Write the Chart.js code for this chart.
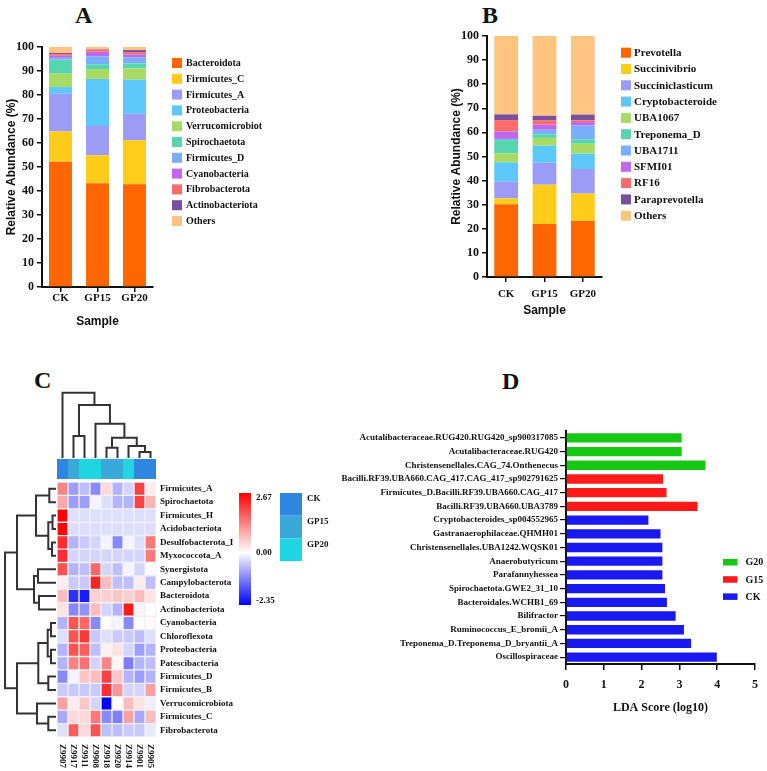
<!DOCTYPE html>
<html>
<head>
<meta charset="utf-8">
<script src="https://cdn.jsdelivr.net/npm/chart.js@4/dist/chart.umd.min.js"></script>
<style>
  body { margin: 0; background: #fff; }
  #fig { position: relative; width: 767px; height: 771px; overflow: hidden; }
  #fig canvas, #fig .tag { position: absolute; }
  .tag { font: bold 24px "Liberation Serif", serif; line-height: 24px; color: #111; }
</style>
</head>
<body>
<div id="fig">
  <div class="tag" style="left:75px; top:3px">A</div>
  <div class="tag" style="left:482px; top:3px">B</div>
  <div class="tag" style="left:34px; top:368px">C</div>
  <div class="tag" style="left:502px; top:369px">D</div>
  <canvas id="chA" width="300" height="303" style="left:0; top:30px"></canvas>
  <canvas id="chB" width="322" height="302" style="left:445px; top:20px"></canvas>
  <canvas id="chC" width="340" height="316" style="left:0; top:455px"></canvas>
  <canvas id="colTree" width="99" height="68" style="left:57px; top:390px"></canvas>
  <canvas id="rowTree" width="56" height="255" style="left:0; top:482px"></canvas>
  <canvas id="chD" width="432" height="310" style="left:335px; top:420px"></canvas>
</div>
<script>
const serif = '"Liberation Serif", "Times New Roman", serif';
const sans = '"Liberation Sans", Arial, sans-serif';
const ink = '#111';
const bold = (size, family = serif) => ({ family, size, weight: 'bold' });

// panel A - phylum level
const samples = ['CK', 'GP15', 'GP20'];
const phyla = ['Bacteroidota', 'Firmicutes_C', 'Firmicutes_A', 'Proteobacteria', 'Verrucomicrobiot', 'Spirochaetota',
  'Firmicutes_D', 'Cyanobacteria', 'Fibrobacterota', 'Actinobacteriota', 'Others'];
const phylaCK = [52.2, 12.6, 15.7, 2.8, 5.6, 5.8, 0.8, 0.8, 0.6, 0.6, 2.5];
const phylaGP15 = [43.2, 11.7, 12.2, 19.6, 4.1, 2.0, 3.3, 1.9, 0.8, 0.2, 1.0];
const phylaGP20 = [42.8, 18.3, 11.1, 14.2, 4.7, 2.0, 2.5, 1.3, 0.8, 1.0, 1.3];

// panel B - genus level
const genera = ['Prevotella', 'Succinivibrio', 'Succiniclasticum', 'Cryptobacteroide', 'UBA1067', 'Treponema_D',
  'UBA1711', 'SFMI01', 'RF16', 'Paraprevotella', 'Others'];
const generaCK = [30.2, 2.4, 7.0, 8.0, 3.7, 5.5, 0.5, 3.1, 4.7, 2.4, 32.5];
const generaGP15 = [22.0, 16.3, 9.1, 7.1, 3.2, 1.5, 1.9, 2.1, 1.7, 2.0, 33.1];
const generaGP20 = [23.2, 11.4, 10.2, 6.4, 4.1, 1.8, 5.8, 1.4, 0.7, 2.4, 32.6];

const taxonColors = ['#FF6600', '#FFCC1A', '#9C9CF7', '#5CC8FA', '#A8DB64', '#55D6AF',
  '#7AAEFA', '#BF68EE', '#FF6B6B', '#7A4F9C', '#FFC580'];

// panel C - heatmap (z-scores, rows x samples)
const heatRows = ['Firmicutes_A', 'Spirochaetota', 'Firmicutes_H', 'Acidobacteriota', 'Desulfobacterota_I',
  'Myxococcota_A', 'Synergistota', 'Campylobacterota', 'Bacteroidota', 'Actinobacteriota', 'Cyanobacteria',
  'Chloroflexota', 'Proteobacteria', 'Patescibacteria', 'Firmicutes_D', 'Firmicutes_B', 'Verrucomicrobiota',
  'Firmicutes_C', 'Fibrobacterota'];
const heatCols = ['Z9907', 'Z9917', 'Z9911', 'Z9908', 'Z9918', 'Z9920', 'Z9914', 'Z9901', 'Z9905'];
const colGroups = ['CK', 'GP15', 'GP20', 'GP20', 'GP15', 'GP15', 'GP20', 'CK', 'CK'];
const groupNames = ['CK', 'GP15', 'GP20'];
const groupColors = ['#2E86DE', '#39A9D9', '#1FD5E0'];
const zScale = [2.67, 0.00, -2.35];
const zScores = [
  [1.3, -0.9, -0.6, -1.1, 0.4, -0.7, -0.4, 2.0, 0.2],
  [0.9, -0.9, -0.9, -0.1, -0.3, -0.7, -0.7, 2.0, 0.8],
  [2.67, -0.3, -0.3, -0.3, -0.3, -0.3, -0.3, -0.3, -0.3],
  [2.6, -0.3, -0.3, -0.3, -0.3, -0.3, -0.3, -0.3, -0.3],
  [2.2, -0.7, -0.5, -0.4, -0.1, -1.1, -0.1, -0.3, 1.4],
  [2.2, -0.4, -0.4, -0.4, -0.4, -0.4, -0.4, -0.4, 1.4],
  [1.8, -0.7, -0.6, 1.6, -0.4, -0.6, -0.1, -0.4, -0.05],
  [0.2, -0.5, -0.5, 2.3, 0.7, -0.6, -0.6, 0.2, -0.6],
  [0.7, -1.9, -2.1, 0.5, 0.5, 0.6, 0.5, 0.7, 0.3],
  [0.3, -1.1, -1.0, 0.7, -0.4, -0.7, 2.4, 0.1, 0.0],
  [-0.7, 1.8, 1.6, -1.1, 0.0, -0.1, -1.1, 0.0, 0.05],
  [-0.3, 1.8, 2.1, -0.5, -0.3, -0.5, -0.5, -0.6, -0.3],
  [-0.7, 1.8, 1.7, -0.6, 0.15, 0.3, -0.4, -0.9, -0.7],
  [-0.7, 1.3, 1.5, -0.4, 1.3, 0.1, -1.2, -0.7, -0.6],
  [-1.1, -0.1, 0.6, 0.7, 2.0, 0.6, -0.7, -0.9, -0.7],
  [-0.5, -0.5, -0.5, -0.5, 2.2, 1.1, -0.4, -0.4, 1.0],
  [1.0, 0.2, 0.6, -0.4, -2.35, 0.0, 0.7, 0.3, -0.15],
  [-0.8, 0.4, 0.4, 1.4, -1.1, -1.2, 1.0, -0.8, 0.7],
  [-0.3, 1.7, 0.4, 1.8, -0.6, -0.6, -0.5, -0.5, -0.2]
];
// cluster merges: [childA, childB, height]; node n+k is the k-th merge
const colMerges = [[7, 8, 6], [6, 9, 12], [4, 5, 10.3], [11, 10, 20.3], [3, 12, 34.3],
  [1, 2, 22], [14, 13, 53], [0, 15, 65.3]];
const rowMerges = [[0, 1, 6.7], [2, 3, 3.5], [4, 5, 4], [20, 21, 7.7], [19, 22, 20],
  [6, 7, 18], [8, 9, 17], [24, 25, 22], [23, 26, 39],
  [10, 11, 5], [12, 13, 5], [28, 29, 8.3], [14, 15, 7.7], [30, 31, 17.7],
  [17, 18, 7.7], [16, 33, 19], [32, 34, 39], [27, 35, 51]];

// panel D - LEfSe
const ldaFeatures = ['Acutalibacteraceae.RUG420.RUG420_sp900317085', 'Acutalibacteraceae.RUG420',
  'Christensenellales.CAG_74.Onthenecus', 'Bacilli.RF39.UBA660.CAG_417.CAG_417_sp902791625',
  'Firmicutes_D.Bacilli.RF39.UBA660.CAG_417', 'Bacilli.RF39.UBA660.UBA3789', 'Cryptobacteroides_sp004552965',
  'Gastranaerophilaceae.QHMH01', 'Christensenellales.UBA1242.WQSK01', 'Anaerobutyricum', 'Parafannyhessea',
  'Spirochaetota.GWE2_31_10', 'Bacteroidales.WCHB1_69', 'Bilifractor', 'Ruminococcus_E_bromii_A',
  'Treponema_D.Treponema_D_bryantii_A', 'Oscillospiraceae'];
const ldaScores = [3.06, 3.06, 3.69, 2.57, 2.66, 3.48, 2.18, 2.50, 2.55, 2.55, 2.55, 2.62, 2.67, 2.90, 3.12, 3.31, 3.99];
const ldaClass = ['G20', 'G20', 'G20', 'G15', 'G15', 'G15', 'CK', 'CK', 'CK', 'CK', 'CK', 'CK', 'CK', 'CK', 'CK', 'CK', 'CK'];
const ldaGroups = ['G20', 'G15', 'CK'];
const ldaColors = ['#14C814', '#FF1A1A', '#1A1AF0'];

// legend drawn beside / inside the plot from the datasets
const sideLegend = {
  id: 'sideLegend',
  afterDraw(chart, args, o) {
    const { ctx, chartArea } = chart;
    const x0 = (o.fromLeft ? chartArea.left : chartArea.right) + o.dx;
    ctx.save();
    ctx.font = `bold ${o.size}px ${serif}`;
    ctx.textBaseline = 'middle';
    chart.data.datasets.forEach((ds, i) => {
      const y = chartArea.top + o.dy + i * o.gap;
      ctx.fillStyle = ds.backgroundColor;
      ctx.fillRect(x0, y, o.w, o.h);
      ctx.fillStyle = ink;
      ctx.fillText(ds.label, x0 + o.w + o.textGap, y + o.h / 2 + 0.5);
    });
    ctx.restore();
  }
};

const axisGrid = { drawOnChartArea: false, offset: false, tickLength: 5, color: ink, lineWidth: 1.5 };

function stackChart(id, taxa, series, o) {
  new Chart(document.getElementById(id), {
    type: 'bar',
    data: {
      labels: samples,
      datasets: taxa.map((t, k) => ({
        label: t,
        data: series.map(s => s[k]),
        backgroundColor: taxonColors[k],
        barPercentage: 0.62,
        categoryPercentage: 1
      }))
    },
    options: {
      responsive: false,
      animation: false,
      events: [],
      layout: { padding: o.padding },
      plugins: { legend: { display: false }, tooltip: { enabled: false }, sideLegend: o.legend },
      scales: {
        x: {
          stacked: true,
          grid: axisGrid,
          border: { color: ink, width: 2 },
          ticks: { color: ink, font: bold(11), padding: o.xPad },
          title: { display: true, text: 'Sample', color: ink, font: bold(12, sans) },
          afterFit(s) { s.height = o.xHeight; }
        },
        y: {
          stacked: true,
          min: 0,
          max: 100,
          grid: axisGrid,
          border: { color: ink, width: 2 },
          ticks: { stepSize: 10, color: ink, font: bold(12), padding: 3 },
          title: { display: true, text: 'Relative Abundance (%)', color: ink, font: bold(12, sans) },
          afterFit(s) { s.width = 42; }
        }
      }
    },
    plugins: [sideLegend]
  });
}

stackChart('chA', phyla, [phylaCK, phylaGP15, phylaGP20], {
  padding: { top: 17, right: 147 }, xPad: 0, xHeight: 46,
  legend: { dx: 19, dy: 11, gap: 15.8, w: 10, h: 10, size: 10, textGap: 4 }
});
stackChart('chB', genera, [generaCK, generaGP15, generaGP20], {
  padding: { top: 16, right: 165 }, xPad: 6, xHeight: 45,
  legend: { dx: 19, dy: 11.7, gap: 16.3, w: 10, h: 10, size: 11, textGap: 3 }
});

// ---------- panel C ----------
function heatColor(v) {
  if (v >= 0) {
    const c = Math.round(255 * (1 - Math.min(v / zScale[0], 1)));
    return `rgb(255,${c},${c})`;
  }
  const c = Math.round(255 * (1 - Math.min(v / zScale[2], 1)));
  return `rgb(${c},${c},255)`;
}

const heatExtras = {
  id: 'heatExtras',
  afterDraw(chart) {
    const { ctx, chartArea: a, scales: { x, y } } = chart;
    ctx.save();
    // sample group strip
    heatCols.forEach((c, j) => {
      const x0 = x.getPixelForValue(j), x1 = x.getPixelForValue(j + 1);
      ctx.fillStyle = groupColors[groupNames.indexOf(colGroups[j])];
      ctx.fillRect(x0, a.top - 23, x1 - x0, 20);
    });
    // sample labels, top to bottom
    ctx.fillStyle = ink;
    ctx.font = `bold 9px ${serif}`;
    ctx.textAlign = 'left';
    ctx.textBaseline = 'middle';
    heatCols.forEach((c, j) => {
      ctx.save();
      ctx.translate(x.getPixelForValue(j + 0.5), a.bottom + 7);
      ctx.rotate(Math.PI / 2);
      ctx.fillText(c, 0, 0);
      ctx.restore();
    });
    // colour key
    const kx = a.right + 83, ky = a.top + 11, kh = 112;
    const zero = zScale[0] / (zScale[0] - zScale[2]);
    const g = ctx.createLinearGradient(0, ky, 0, ky + kh);
    g.addColorStop(0, heatColor(zScale[0]));
    g.addColorStop(zero, heatColor(0));
    g.addColorStop(1, heatColor(zScale[2]));
    ctx.fillStyle = g;
    ctx.fillRect(kx, ky, 12, kh);
    ctx.fillStyle = ink;
    ctx.fillText(zScale[0].toFixed(2), kx + 17, ky + 5);
    ctx.fillText(zScale[1].toFixed(2), kx + 17, ky + zero * kh);
    ctx.fillText(zScale[2].toFixed(2), kx + 17, ky + kh - 4);
    // group key
    const gx = a.right + 124;
    groupNames.forEach((n, i) => {
      ctx.fillStyle = groupColors[i];
      ctx.fillRect(gx, ky + i * 22.7, 22, 22.7);
      ctx.fillStyle = ink;
      ctx.fillText(n, gx + 27, ky + i * 22.7 + 6);
    });
    ctx.restore();
  }
};

new Chart(document.getElementById('chC'), {
  type: 'bar',
  data: {
    labels: heatRows,
    datasets: heatCols.map((c, j) => ({
      label: c,
      data: heatRows.map(() => [j, j + 1]),
      backgroundColor: zScores.map(r => heatColor(r[j])),
      borderColor: 'rgba(238,238,245,0.9)',
      borderWidth: 1,
      borderSkipped: false,
      barPercentage: 1,
      categoryPercentage: 1,
      grouped: false
    }))
  },
  options: {
    indexAxis: 'y',
    responsive: false,
    animation: false,
    events: [],
    layout: { padding: { left: 57, top: 27, right: 84, bottom: 34 } },
    plugins: { legend: { display: false }, tooltip: { enabled: false } },
    scales: {
      x: { type: 'linear', min: 0, max: heatCols.length, display: false },
      y: {
        position: 'right',
        grid: { display: false, drawTicks: false },
        border: { display: false },
        ticks: { autoSkip: false, padding: 4, color: ink, font: bold(9) },
        afterFit(s) { s.width = 100; }
      }
    }
  },
  plugins: [heatExtras]
});

function dendroChart(id, merges, nLeaves, sideways, hMax) {
  const pos = [], hgt = [];
  for (let i = 0; i < nLeaves; i++) { pos[i] = i + 0.5; hgt[i] = 0; }
  const links = merges.map(([a, b, h], k) => {
    pos[nLeaves + k] = (pos[a] + pos[b]) / 2;
    hgt[nLeaves + k] = h;
    const pts = [[pos[a], hgt[a]], [pos[a], h], [pos[b], h], [pos[b], hgt[b]]];
    return {
      data: pts.map(([p, v]) => sideways ? { x: v, y: p } : { x: p, y: v }),
      showLine: true,
      borderColor: '#333',
      borderWidth: 2,
      pointRadius: 0,
      clip: false
    };
  });
  const leafAxis = { type: 'linear', min: 0, max: nLeaves, display: false, reverse: sideways };
  const hAxis = { type: 'linear', min: 0, max: hMax, display: false, reverse: sideways };
  new Chart(document.getElementById(id), {
    type: 'scatter',
    data: { datasets: links },
    options: {
      responsive: false,
      animation: false,
      events: [],
      plugins: { legend: { display: false }, tooltip: { enabled: false } },
      scales: sideways ? { x: hAxis, y: leafAxis } : { x: leafAxis, y: hAxis }
    }
  });
}

dendroChart('colTree', colMerges, heatCols.length, false, 68);
dendroChart('rowTree', rowMerges, heatRows.length, true, 56);

// ---------- panel D ----------
new Chart(document.getElementById('chD'), {
  type: 'bar',
  data: {
    labels: ldaFeatures,
    datasets: ldaGroups.map((g, k) => ({
      label: g,
      data: ldaScores.map((v, i) => ldaClass[i] === g ? v : null),
      backgroundColor: ldaColors[k],
      grouped: false,
      barPercentage: 0.68,
      categoryPercentage: 1
    }))
  },
  options: {
    indexAxis: 'y',
    responsive: false,
    animation: false,
    events: [],
    layout: { padding: { top: 11, right: 12, bottom: 11 } },
    plugins: {
      legend: { display: false },
      tooltip: { enabled: false },
      sideLegend: { fromLeft: true, dx: 157, dy: 128, gap: 17.2, w: 14.5, h: 6.5, size: 10, textGap: 8 }
    },
    scales: {
      x: {
        min: 0,
        max: 5,
        grid: { drawOnChartArea: false, tickLength: 6, color: ink, lineWidth: 1.5 },
        border: { color: ink, width: 2 },
        ticks: { stepSize: 1, color: ink, font: bold(12), padding: 8 },
        title: { display: true, text: 'LDA Score (log10)', color: ink, font: bold(12) },
        afterFit(s) { s.height = 55; }
      },
      y: {
        grid: { drawOnChartArea: false, offset: false, tickLength: 6, color: ink, lineWidth: 1.2 },
        border: { color: ink, width: 2 },
        ticks: { autoSkip: false, color: ink, font: bold(9), padding: 2 },
        afterFit(s) { s.width = 231; }
      }
    }
  },
  plugins: [sideLegend]
});
</script>
</body>
</html>
